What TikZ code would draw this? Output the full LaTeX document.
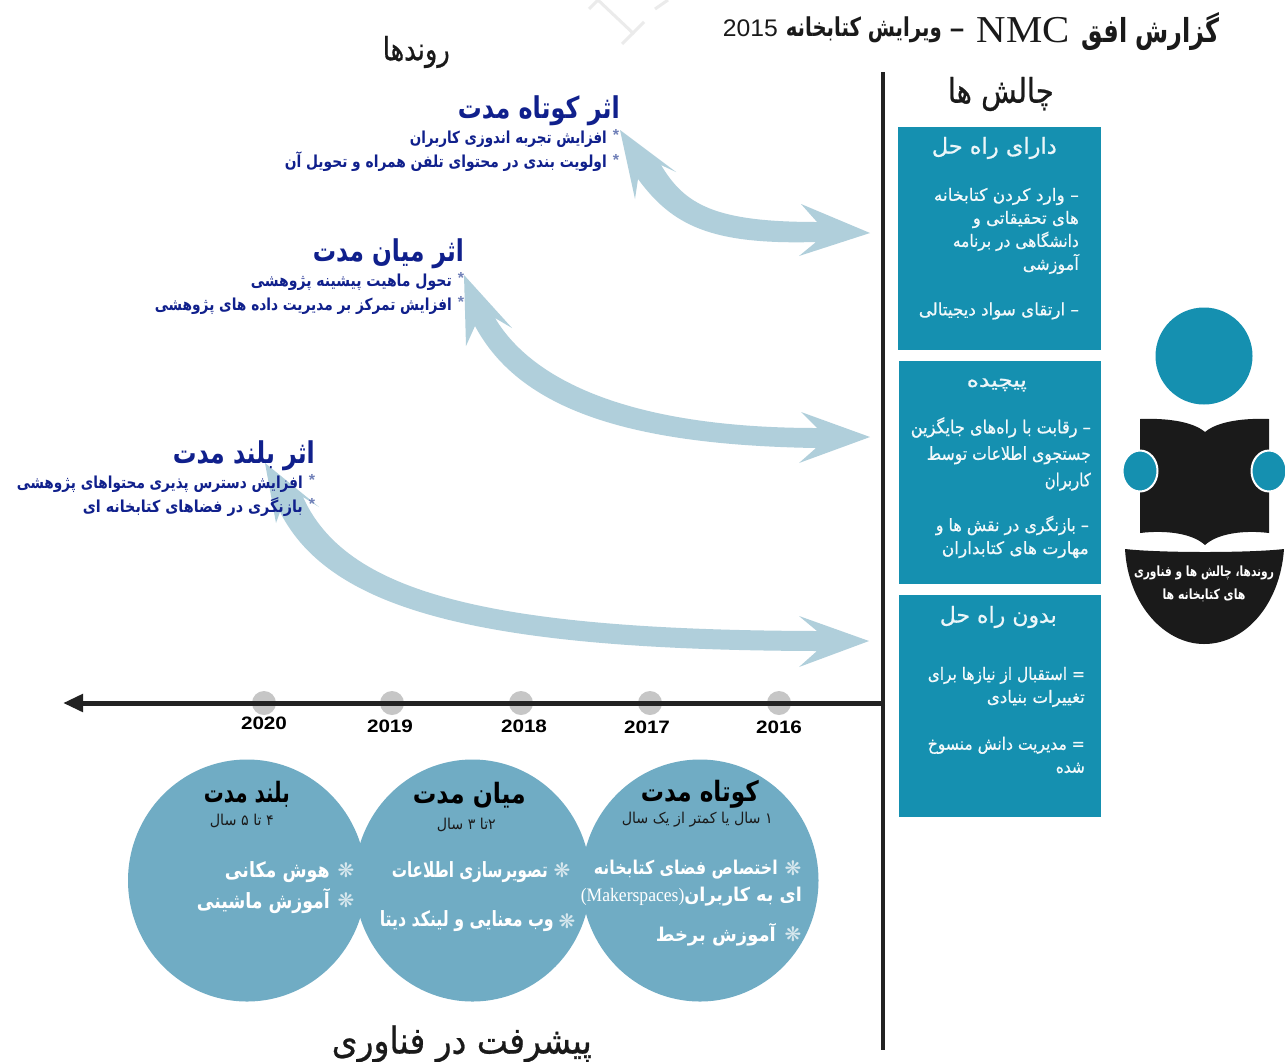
\documentclass[tikz,border=0pt]{standalone}
\usepackage{fontspec}
\usepackage{graphicx}
\usetikzlibrary{arrows.meta,shapes.geometric}
\setmainfont{Liberation Sans}
\newfontfamily\arfont[Script=Arabic]{DejaVu Sans}
\newfontfamily\armed[Script=Arabic,FakeBold=0.7]{DejaVu Sans}
\newfontfamily\dingfont{DejaVu Sans}
\newfontfamily\latserif{Liberation Serif}
\newfontfamily\latsans{Liberation Sans}
\TeXXeTstate=1
\definecolor{boxblue}{HTML}{1590B0}
\definecolor{circblue}{HTML}{70ACC4}
\definecolor{arrowblue}{HTML}{B0CFDB}
\definecolor{navyt}{HTML}{10208C}
\definecolor{stargrey}{HTML}{7080B8}
\definecolor{darkax}{HTML}{222222}
\definecolor{dotgrey}{HTML}{C6C6C6}
\definecolor{ink}{HTML}{1A1A1A}
\definecolor{softw}{HTML}{D8E8EE}
\newcommand{\fw}[2]{\resizebox{#1pt}{\height}{#2}}
\tikzset{
  rt/.style={inner sep=0pt,anchor=east,align=right},
  hd/.style={rt,text=navyt,font=\arfont\bfseries\fontsize{30}{32}\selectfont},
  sub/.style={rt,text=navyt,font=\arfont\bfseries\fontsize{16.5}{24.5}\selectfont},
  starm/.style={inner sep=0pt,text=stargrey,font=\latsans\bfseries\fontsize{16}{16}\selectfont},
  flowm/.style={inner sep=0pt,text=softw,font=\dingfont\bfseries\fontsize{20}{20}\selectfont},
  bigt/.style={rt,text=ink,font=\armed\fontsize{32}{36}\selectfont},
  boxh/.style={rt,text=white!92!boxblue,font=\armed\fontsize{22}{26}\selectfont},
  boxt/.style={rt,text=white!95!boxblue,font=\armed\fontsize{17}{23}\selectfont},
  boxtb/.style={boxt,font=\armed\fontsize{18}{26.5}\selectfont},
  chal/.style={fill=boxblue,draw=none},
  circ/.style={fill=circblue,draw=none},
  cirh/.style={rt,text=black,font=\arfont\bfseries\fontsize{28}{30}\selectfont},
  ciry/.style={rt,text=ink,font=\arfont\fontsize{15}{18}\selectfont},
  cirt/.style={rt,text=white,font=\arfont\bfseries\fontsize{21}{31}\selectfont},
  yr/.style={inner sep=0pt,text=black,font=\latsans\bfseries\fontsize{18}{20}\selectfont},
  dotn/.style={circle,fill=dotgrey,draw=none,minimum size=24pt,inner sep=0pt},
  fatarrow/.style={fill=arrowblue,draw=none},
  hand/.style={fill=boxblue,draw=white,line width=2pt},
  wmark/.style={draw=black!8,line width=3pt},
  iconb/.style={fill=ink,draw=none},
  icont/.style={inner sep=0pt,align=center,text=white,font=\arfont\bfseries\fontsize{14}{22.5}\selectfont},
  titlep/.style={inner sep=0pt,anchor=base east,text=ink},
}
\begin{document}
\begin{tikzpicture}[x=1pt,y=-1pt]
\useasboundingbox (0,0) rectangle (1285,1061);
\fill[white] (0,0) rectangle (1285,1061);
% faint watermark at the top edge
\draw[wmark] (589,9) -- (598,0) -- (634,34);
\draw[wmark] (622,44) -- (644,22);
\draw[wmark] (655,9) -- (668,0);
% curved arrows
\fill[fatarrow] (620,130) -- (676,172) -- (661,165) .. controls (685,205) and (715,222) .. (817,222) -- (801,204) -- (870,233) -- (799,256) -- (816,242) .. controls (710,245) and (672,225) .. (638,179) -- (635,199) -- cycle;
\fill[fatarrow] (464,275) -- (512,328) -- (495,318) .. controls (535,385) and (640,428) .. (817,428) -- (801,412) -- (870,437) -- (799,463) -- (816,448) .. controls (630,445) and (520,410) .. (475,326) -- (466,346) -- cycle;
\fill[fatarrow] (265,463) -- (319,507) -- (303,497) .. controls (345,590) and (480,630) .. (817,631) -- (799,616) -- (869,641) -- (799,667) -- (817,651) .. controls (480,650) and (330,610) .. (280,512) -- (276,523) -- cycle;
% title and headers
\node[titlep,font=\arfont\bfseries\fontsize{33}{35}\selectfont] (t1) at (1220,42) {\fw{138}{\beginR گزارش افق\endR}};
\node[titlep,font=\latserif\fontsize{38}{40}\selectfont] (t2) at (1070,42) {\fw{93}{NMC}};
\node[inner sep=0pt,text=ink,font=\arfont\bfseries\fontsize{22}{24}\selectfont] (t3) at (957,33) {\fw{16}{–}};
\node[titlep,font=\arfont\bfseries\fontsize{26}{28}\selectfont] (t4) at (942,36) {\fw{156}{\beginR ویرایش کتابخانه\endR}};
\node[titlep,font=\latsans\fontsize{24}{26}\selectfont] (t5) at (778,36) {\fw{55}{2015}};
\node[bigt] (trends) at (450,52) {\fw{67}{\beginR روندها\endR}};
\node[bigt,font=\armed\fontsize{34}{36}\selectfont] (challenges) at (1054,94) {\fw{106}{\beginR چالش ها\endR}};
\node[bigt,font=\armed\fontsize{37}{39}\selectfont] (techhead) at (592,1044) {\fw{260}{\beginR پیشرفت در فناوری\endR}};
% trends text
\node[hd] (h1) at (620,111) {\fw{162}{\beginR اثر کوتاه مدت\endR}};
\node[sub] (s1) at (607,151) {\fw{197}{\beginR افزایش تجربه اندوزی کاربران\endR}\\\fw{322}{\beginR اولویت بندی در محتوای تلفن همراه و تحویل آن\endR}};
\node[starm] (s1a) at (616,135) {*};
\node[starm] (s1b) at (616,160) {*};
\node[hd] (h2) at (464,254) {\fw{151}{\beginR اثر میان مدت\endR}};
\node[sub] (s2) at (452,294) {\fw{201}{\beginR تحول ماهیت پیشینه پژوهشی\endR}\\\fw{297}{\beginR افزایش تمرکز بر مدیریت داده های پژوهشی\endR}};
\node[starm] (s2a) at (461,278) {*};
\node[starm] (s2b) at (461,302) {*};
\node[hd] (h3) at (315,456) {\fw{142}{\beginR اثر بلند مدت\endR}};
\node[sub] (s3) at (303,496) {\fw{286}{\beginR افزایش دسترس پذیری محتواهای پژوهشی\endR}\\\fw{220}{\beginR بازنگری در فضاهای کتابخانه ای\endR}};
\node[starm] (s3a) at (312,480) {*};
\node[starm] (s3b) at (312,504) {*};
% axes
\node[dotn] (d20) at (264,703) {};
\node[dotn] (d19) at (392,703) {};
\node[dotn] (d18) at (521,703) {};
\node[dotn] (d17) at (650,703) {};
\node[dotn] (d16) at (779,703) {};
\coordinate (vt) at (883,72);
\coordinate (vb) at (883,1050);
\coordinate (ho) at (885,703);
\coordinate (he) at (63,703);
\draw[darkax,line width=4pt] (vt) -- (vb);
\draw[darkax,line width=5pt,-{Triangle[length=20pt,width=17pt]}] (ho) -- (he);
\node[yr] (y20) at (264,723) {\fw{46}{2020}};
\node[yr] (y19) at (390,726) {\fw{46}{2019}};
\node[yr] (y18) at (524,726) {\fw{46}{2018}};
\node[yr] (y17) at (647,727) {\fw{46}{2017}};
\node[yr] (y16) at (779,727) {\fw{46}{2016}};
% challenge boxes
\fill[chal] (898,127) rectangle (1101,350);
\fill[chal] (899,361) rectangle (1101,584);
\fill[chal] (899,595) rectangle (1101,817);
\node[boxh] (b1h) at (1057,148) {\fw{125}{\beginR دارای راه حل\endR}};
\node[boxt] (b1a) at (1079,231) {\fw{145}{\beginR – وارد کردن کتابخانه\endR}\\\fw{106}{\beginR های تحقیقاتی و\endR}\\\fw{126}{\beginR دانشگاهی در برنامه\endR}\\\fw{56}{\beginR آموزشی\endR}};
\node[boxt] (b1b) at (1079,311) {\fw{160}{\beginR – ارتقای سواد دیجیتالی\endR}};
\node[boxh,font=\armed\fontsize{20}{24}\selectfont] (b2h) at (1027,385) {\fw{60}{\beginR پیچیده\endR}};
\node[boxtb] (b2a) at (1091,454) {\fw{180}{\beginR – رقابت با راه‌های جایگزین\endR}\\\fw{164}{\beginR جستجوی اطلاعات توسط\endR}\\\fw{46}{\beginR کاربران\endR}};
\node[boxt] (b2b) at (1089,537) {\fw{153}{\beginR – بازنگری در نقش ها و\endR}\\\fw{147}{\beginR مهارت های کتابداران\endR}};
\node[boxh] (b3h) at (1057,617) {\fw{117}{\beginR بدون راه حل\endR}};
\node[boxt] (b3a) at (1085,687) {\fw{157}{\beginR = استقبال از نیازها برای\endR}\\\fw{98}{\beginR تغییرات بنیادی\endR}};
\node[boxt] (b3b) at (1085,755) {\fw{157}{\beginR = مدیریت دانش منسوخ\endR}\\\fw{29}{\beginR شده\endR}};
% reader icon
\fill[boxblue] (1204,356) circle [radius=48.5];
\fill[iconb] (1140,419) .. controls (1165,418) and (1192,421) .. (1205,432) .. controls (1218,421) and (1245,418) .. (1269,419) -- (1269,533) .. controls (1245,530) and (1218,533) .. (1205,545) .. controls (1192,533) and (1165,530) .. (1140,533) -- cycle;
\fill[hand] (1140,471) ellipse [x radius=17.5, y radius=20.5];
\fill[hand] (1269,471) ellipse [x radius=17.5, y radius=20.5];
\fill[iconb] (1125,549) .. controls (1128,605) and (1165,644) .. (1204,644) .. controls (1245,644) and (1280,605) .. (1284,549) .. controls (1250,553) and (1160,553) .. cycle;
\node[icont] (ic1) at (1204,584) {\fw{140}{\beginR روندها، چالش ها و فناوری\endR}\\\fw{83}{\beginR های کتابخانه ها\endR}};
% technology circles
\fill[circ] (247,880.5) ellipse [x radius=119, y radius=121];
\fill[circ] (472.5,880.5) ellipse [x radius=118, y radius=121];
\fill[circ] (700,880.5) ellipse [x radius=118.5, y radius=121];
\node[cirh] (c1h) at (759,794) {\fw{118}{\beginR کوتاه مدت\endR}};
\node[ciry] (c1y) at (773,820) {\fw{151}{\beginR ۱ سال یا کمتر از یک سال\endR}};
\node[cirt,font=\arfont\bfseries\fontsize{19}{27}\selectfont] (c1a) at (778,870) {\fw{184}{\beginR اختصاص فضای کتابخانه\endR}};
\node[cirt,font=\arfont\bfseries\fontsize{19}{27}\selectfont] (c1b) at (802,897) {\fw{221}{\beginR ای به کاربران\beginL{\latserif\mdseries\fontsize{19}{20}\selectfont (Makerspaces)}\endL\endR}};
\node[cirt,font=\arfont\bfseries\fontsize{19}{27}\selectfont] (c1c) at (776,935) {\fw{120}{\beginR آموزش برخط\endR}};
\node[flowm] (f1a) at (793,868) {❋};
\node[flowm] (f1c) at (793,934) {❋};
\node[cirh] (c2h) at (526,795) {\fw{113}{\beginR میان مدت\endR}};
\node[ciry] (c2y) at (496,825) {\fw{59}{\beginR ۲تا ۳ سال\endR}};
\node[cirt] (c2a) at (548,872) {\fw{156}{\beginR تصویرسازی اطلاعات\endR}};
\node[cirt] (c2b) at (554,921) {\fw{174}{\beginR وب معنایی و لینکد دیتا\endR}};
\node[flowm] (f2a) at (562,870) {❋};
\node[flowm] (f2b) at (567,921) {❋};
\node[cirh] (c3h) at (290,794) {\fw{86}{\beginR بلند مدت\endR}};
\node[ciry] (c3y) at (274,821) {\fw{64}{\beginR ۴ تا ۵ سال\endR}};
\node[cirt] (c3a) at (330,887.5) {\fw{105}{\beginR هوش مکانی\endR}\\\fw{133}{\beginR آموزش ماشینی\endR}};
\node[flowm] (f3a) at (346,870) {❋};
\node[flowm] (f3b) at (346,900) {❋};
\end{tikzpicture}
\end{document}
